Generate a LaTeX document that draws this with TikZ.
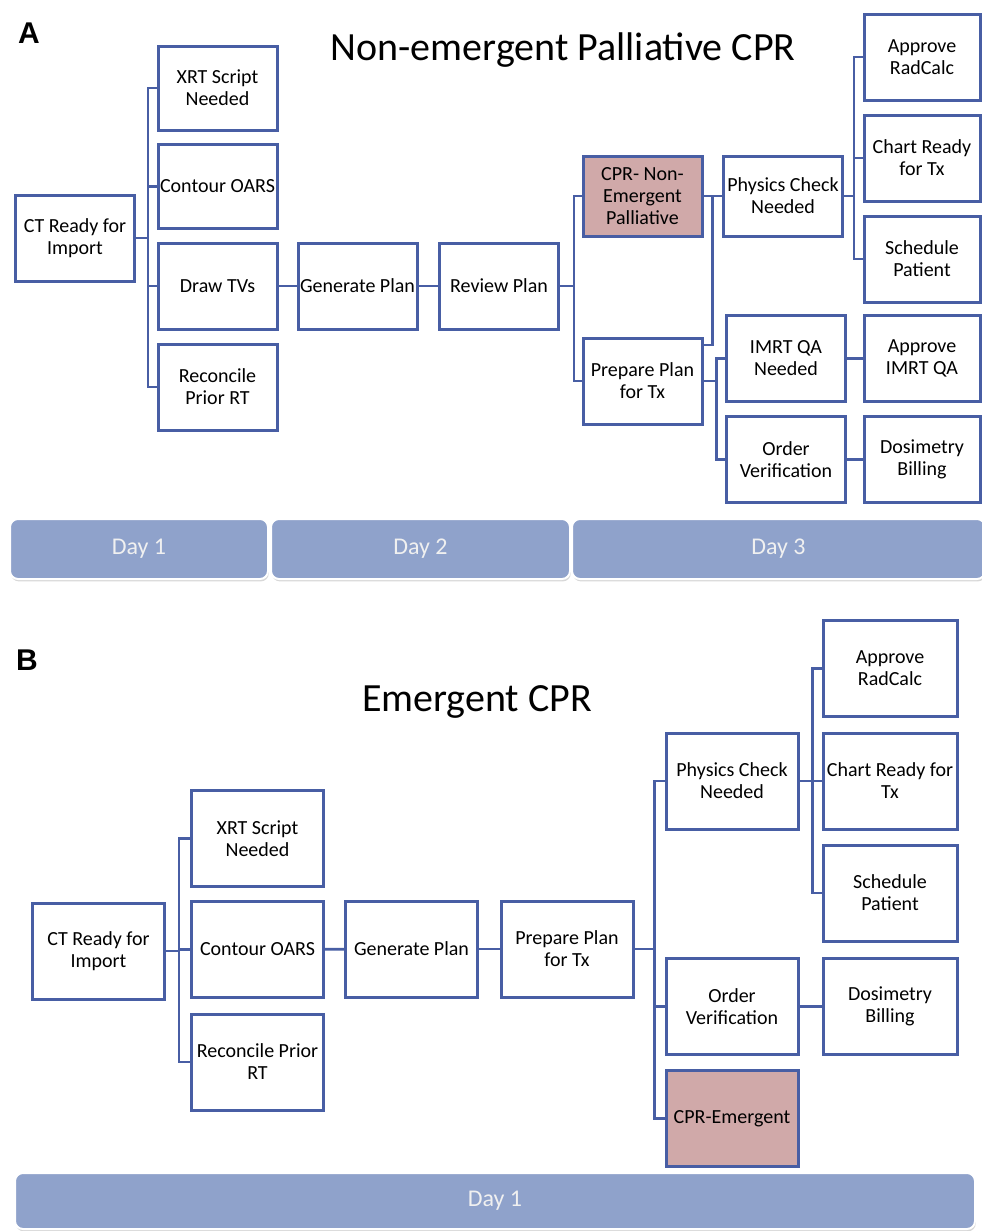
\documentclass[tikz,border=0pt]{standalone}
\usepackage{fontspec}
\setmainfont{Carlito}
\newfontfamily\panelfont{Liberation Sans}
\usetikzlibrary{calc,shadows}
\definecolor{lineblue}{RGB}{72,94,164}
\definecolor{cprpink}{RGB}{208,169,169}
\definecolor{dayblue}{RGB}{143,162,203}

\begin{document}
\begin{tikzpicture}[x=0.5pt,y=-0.5pt]
        \tikzstyle{every node}+=[inner sep=0pt]
        \tikzstyle{box}=[draw=lineblue, line width=1.5pt, fill=white, align=center, font=\fontsize{10}{11}\selectfont]
        \tikzstyle{boxA}=[box, minimum width=59.5pt, minimum height=43pt]
        \tikzstyle{boxB}=[box, minimum width=66pt, minimum height=48pt]
        \tikzstyle{link}=[draw=lineblue, line width=1.4pt]
        \tikzstyle{day}=[fill=dayblue, draw=white, line width=1pt, rounded corners=4pt, drop shadow={opacity=0.3, shadow xshift=0.4pt, shadow yshift=-1.2pt}, text=white!94!black, font=\fontsize{12}{14}\selectfont]
        \tikzstyle{title}=[anchor=base, font=\fontsize{20}{24}\selectfont]
        \tikzstyle{panel}=[anchor=base, font=\panelfont\bfseries\fontsize{15}{18}\selectfont]
        \useasboundingbox (0,0) rectangle (981,1231);
        \fill [white] (0,0) rectangle (981,1231);
        % panel A
        \node [panel] (la) at (29,43) {A};
        \node [title] (ta) at (563,60) {Non-emergent Palliative CPR};
        \node [boxA] (ct) at (75,238) {CT Ready for\\Import};
        \node [boxA, minimum height=42pt] (xrt) at (217.5,88) {XRT Script\\Needed};
        \node [boxA, minimum height=42pt] (oars) at (217.5,186.5) {Contour OARS};
        \node [boxA] (tvs) at (217.5,286) {Draw TVs};
        \node [boxA] (prior) at (217.5,387) {Reconcile\\Prior RT};
        \node [boxA] (gen) at (357.5,286) {Generate Plan};
        \node [boxA] (rev) at (499,286) {Review Plan};
        \node [boxA, minimum height=40pt, fill=cprpink] (cprn) at (642.5,196) {CPR- Non-\\Emergent\\Palliative};
        \node [boxA] (prep) at (642.5,381) {Prepare Plan\\for Tx};
        \node [boxA, minimum height=40pt] (phys) at (783,196) {Physics Check\\Needed};
        \node [boxA] (imrt) at (786,358.5) {IMRT QA\\Needed};
        \node [boxA] (order) at (786,459.5) {Order\\Verification};
        \node [boxA, minimum width=58pt] (radc) at (922,57) {Approve\\RadCalc};
        \node [boxA, minimum width=58pt] (chart) at (922,158) {Chart Ready\\for Tx};
        \node [boxA, minimum width=58pt] (sched) at (922,259) {Schedule\\Patient};
        \node [boxA, minimum width=58pt] (aqa) at (922,358.5) {Approve\\IMRT QA};
        \node [boxA, minimum width=58pt] (dosi) at (922,459.5) {Dosimetry\\Billing};
        \foreach \c in {xrt,oars,tvs,prior}
                \draw [link] (ct.east) -- ++(12,0) |- (\c.west);
        \draw [link] (tvs) -- (gen);
        \draw [link] (gen) -- (rev);
        \foreach \c in {cprn,prep}
                \draw [link] (rev.east) -- ++(14,0) |- (\c.west);
        \draw [link] (cprn) -- (phys);
        \draw [link] ($(prep.north east)+(0,8.5)$) -| ($(cprn.east)!0.5!(phys.west)$);
        \foreach \c in {imrt,order}
                \draw [link] (prep.east) -- ++(13,0) |- (\c.west);
        \foreach \c in {radc,chart,sched}
                \draw [link] (phys.east) -- ++(10,0) |- (\c.west);
        \draw [link] (imrt) -- (aqa);
        \draw [link] (order) -- (dosi);
        \node [day, minimum width=129pt, minimum height=30pt] (d1) at (139,549) {Day 1};
        \node [day, minimum width=149.5pt, minimum height=30pt] (d2) at (420.5,549) {Day 2};
        \node [day, minimum width=206.5pt, minimum height=30pt] (d3) at (778.5,549) {Day 3};
        % panel B
        \node [panel] (lb) at (27,670) {B};
        \node [title] (tb) at (477,711) {Emergent CPR};
        \node [boxB] (ctb) at (98.5,951) {CT Ready for\\Import};
        \node [boxB] (xrtb) at (257.5,838.5) {XRT Script\\Needed};
        \node [boxB] (oarsb) at (257.5,949.5) {Contour OARS};
        \node [boxB] (priorb) at (257.5,1062) {Reconcile Prior\\RT};
        \node [boxB] (genb) at (411.5,949) {Generate Plan};
        \node [boxB] (prepb) at (567,949) {Prepare Plan\\for Tx};
        \node [boxB] (physb) at (732,781) {Physics Check\\Needed};
        \node [boxB] (orderb) at (732,1006.5) {Order\\Verification};
        \node [boxB, fill=cprpink] (cpre) at (732,1118.5) {CPR-Emergent};
        \node [boxB, minimum width=67pt] (radcb) at (890,668.5) {Approve\\RadCalc};
        \node [boxB, minimum width=67pt] (chartb) at (890,781) {Chart Ready for\\Tx};
        \node [boxB, minimum width=67pt] (schedb) at (890,893) {Schedule\\Patient};
        \node [boxB, minimum width=67pt] (dosib) at (890,1006.5) {Dosimetry\\Billing};
        \foreach \c in {xrtb,oarsb,priorb}
                \draw [link] (ctb.east) -- ++(13,0) |- (\c.west);
        \draw [link] (oarsb) -- (genb);
        \draw [link] (genb) -- (prepb);
        \foreach \c in {physb,orderb,cpre}
                \draw [link] (prepb.east) -- ++(20,0) |- (\c.west);
        \foreach \c in {radcb,chartb,schedb}
                \draw [link] (physb.east) -- ++(13,0) |- (\c.west);
        \draw [link] (orderb) -- (dosib);
        \node [day, minimum width=480pt, minimum height=28pt] (db) at (495,1201) {Day 1};
\end{tikzpicture}
\end{document}
